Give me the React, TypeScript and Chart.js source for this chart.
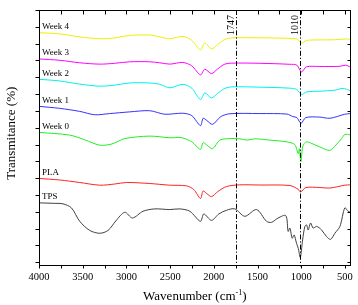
import React, { useEffect, useRef } from "react";
import { Chart, registerables } from "chart.js";

Chart.register(...registerables);

// ---- data (wavenumber in cm-1, transmittance in arbitrary offset units) ----
const seriesNames = ["Week 4", "Week 3", "Week 2", "Week 1", "Week 0", "PLA", "TPS"];
const seriesColors = ["#eeee00", "#ff00ff", "#00eeee", "#3333ff", "#22ee22", "#ff2222", "#404040"];

const week4X = [4000, 3763, 3534, 3305, 3134, 2962, 2733, 2619, 2504, 2355, 2253, 2153, 2104, 2027, 1955, 1875, 1795, 1588, 1359, 1130, 1050, 997, 940, 787, 616, 482, 444];
const week4Y = [13.90, 13.83, 13.65, 13.54, 13.59, 13.74, 13.76, 13.65, 13.54, 13.68, 13.44, 12.88, 13.28, 12.94, 13.20, 13.50, 13.59, 13.60, 13.59, 13.56, 13.53, 13.28, 13.44, 13.47, 13.48, 13.53, 13.50];

const week3X = [4000, 3763, 3534, 3305, 3134, 2962, 2733, 2619, 2504, 2355, 2253, 2153, 2104, 2027, 1955, 1875, 1795, 1474, 1130, 1051, 997, 940, 787, 558, 490, 444];
const week3Y = [12.34, 12.26, 12.11, 12.03, 12.08, 12.17, 12.17, 12.11, 12.03, 12.13, 11.93, 11.39, 11.73, 11.47, 11.75, 12.03, 12.09, 12.08, 12.02, 11.97, 11.57, 11.87, 11.89, 11.90, 11.97, 11.87];

const week2X = [4000, 3763, 3534, 3305, 3134, 2962, 2733, 2619, 2504, 2355, 2253, 2153, 2104, 2027, 1955, 1875, 1795, 1474, 1130, 1051, 997, 940, 787, 616, 524, 444];
const week2Y = [11.13, 11.03, 10.84, 10.72, 10.78, 10.91, 10.91, 10.83, 10.62, 10.83, 10.60, 9.92, 10.32, 10.02, 10.30, 10.59, 10.68, 10.66, 10.60, 10.52, 10.22, 10.38, 10.42, 10.48, 10.59, 10.46];

const week1X = [4000, 3763, 3534, 3363, 3191, 2962, 2733, 2561, 2355, 2253, 2153, 2123, 2081, 2015, 1920, 1817, 1474, 1165, 1096, 1051, 1016, 999, 948, 787, 673, 502, 444];
const week1Y = [9.52, 9.40, 9.22, 9.02, 9.09, 9.19, 9.26, 9.05, 9.11, 8.97, 8.37, 8.81, 8.68, 8.45, 8.91, 9.08, 9.09, 9.06, 8.91, 8.85, 8.57, 8.51, 8.85, 8.88, 8.81, 9.05, 9.09];

const week0X = [4000, 3649, 3477, 3305, 3168, 3019, 2733, 2504, 2370, 2253, 2153, 2123, 2081, 2015, 1932, 1817, 1703, 1619, 1531, 1359, 1169, 1074, 1036, 1022, 1005, 985, 967, 940, 879, 787, 673, 604, 539, 502, 444];
const week0Y = [7.97, 7.81, 7.53, 7.21, 7.28, 7.60, 7.75, 7.65, 7.66, 7.41, 6.96, 7.36, 7.22, 7.00, 7.51, 7.60, 7.59, 7.51, 7.59, 7.51, 7.41, 7.24, 6.70, 7.00, 6.22, 7.10, 7.30, 7.41, 7.31, 7.10, 6.90, 7.22, 7.60, 7.85, 7.83];

const plaX = [4000, 3763, 3534, 3305, 3134, 3000, 2733, 2504, 2313, 2229, 2153, 2123, 2081, 2027, 1955, 1855, 1703, 1474, 1130, 1036, 1008, 948, 787, 673, 502, 444];
const plaY = [5.23, 5.14, 4.99, 4.83, 4.90, 4.99, 4.93, 4.83, 4.79, 4.57, 4.04, 4.49, 4.33, 4.15, 4.45, 4.75, 4.85, 4.84, 4.81, 4.59, 4.43, 4.69, 4.69, 4.66, 4.83, 4.85];

const tpsX = [4000, 3820, 3725, 3629, 3534, 3420, 3305, 3210, 3122, 3019, 2931, 2810, 2676, 2504, 2390, 2275, 2153, 2115, 2027, 1943, 1855, 1760, 1646, 1512, 1397, 1340, 1265, 1177, 1150, 1130, 1104, 1082, 1054, 1034, 1011, 985, 959, 940, 921, 894, 864, 825, 768, 711, 665, 616, 558, 502, 464, 444];
const tpsY = [3.78, 3.75, 3.72, 3.48, 2.68, 2.14, 1.97, 2.14, 2.70, 3.22, 2.88, 3.28, 3.42, 3.38, 3.42, 3.28, 2.68, 3.12, 2.74, 3.12, 3.34, 3.42, 2.98, 3.38, 2.68, 2.62, 2.88, 3.02, 2.08, 2.28, 1.67, 1.87, 1.37, 1.07, 0.53, 1.57, 2.38, 2.47, 2.17, 2.58, 2.28, 2.38, 2.17, 1.77, 1.61, 1.97, 2.38, 3.48, 3.28, 3.24];

const seriesX = [week4X, week3X, week2X, week1X, week0X, plaX, tpsX];
const seriesY = [week4Y, week3Y, week2Y, week1Y, week0Y, plaY, tpsY];

const markerWavenumbers = [1747, 1010];
const markerLabels = ["1747", "1010"];

const xTickValues = [4000, 3500, 3000, 2500, 2000, 1500, 1000, 500];
const xMinorTickValues = [4000, 3750, 3500, 3250, 3000, 2750, 2500, 2250, 2000, 1750, 1500, 1250, 1000, 750, 500];
const xMin = 435;
const xMax = 4000;
const yMin = 0;
const yMax = 15.25;
const yTickCount = 15;

const xTitleMain = "Wavenumber (cm";
const xTitleSup = "-1";
const xTitleEnd = ")";
const yTitle = "Transmitance (%)";

const SERIF = '"Liberation Serif", "Times New Roman", serif';

const overlayPlugin = {
  id: "overlay",
  afterDatasetsDraw(chart: any) {
    const { ctx, chartArea: a, scales } = chart;
    const xs = scales.x;
    const ys = scales.y;
    ctx.save();
    ctx.strokeStyle = "#000";
    ctx.fillStyle = "#000";
    ctx.lineWidth = 1;

    // dash-dot marker lines
    ctx.setLineDash([5, 2, 1.2, 2]);
    markerWavenumbers.forEach((w) => {
      const px = Math.round(xs.getPixelForValue(w)) + 0.5;
      ctx.beginPath();
      ctx.moveTo(px, a.top);
      ctx.lineTo(px, a.bottom);
      ctx.stroke();
    });
    ctx.setLineDash([]);

    // frame
    const L = Math.round(a.left) + 0.5;
    const R = Math.round(a.right) - 0.5;
    const T = Math.round(a.top) + 0.5;
    const B = Math.round(a.bottom) - 0.5;
    ctx.strokeRect(L, T, R - L, B - T);

    // x ticks (bottom outward, top inward)
    ctx.beginPath();
    xMinorTickValues.forEach((w) => {
      const px = Math.round(xs.getPixelForValue(w)) + 0.5;
      ctx.moveTo(px, B);
      ctx.lineTo(px, B + 3);
      ctx.moveTo(px, T);
      ctx.lineTo(px, T + 4);
    });
    // y ticks (left outward, right inward)
    for (let k = 0; k <= yTickCount; k++) {
      const py = Math.round(ys.getPixelForValue(yMax - k)) + 0.5;
      ctx.moveTo(L - 4, py);
      ctx.lineTo(L, py);
      ctx.moveTo(R - 3, py);
      ctx.lineTo(R, py);
    }
    ctx.stroke();

    // marker labels
    ctx.font = `10px ${SERIF}`;
    ctx.textAlign = "left";
    ctx.textBaseline = "middle";
    markerWavenumbers.forEach((w, i) => {
      const px = xs.getPixelForValue(w);
      ctx.save();
      ctx.translate(px - 5, a.top + 25);
      ctx.rotate(-Math.PI / 2);
      ctx.fillText(markerLabels[i], 0, 0);
      ctx.restore();
    });

    // series labels
    ctx.font = `9px ${SERIF}`;
    ctx.textAlign = "left";
    ctx.textBaseline = "middle";
    seriesNames.forEach((name, i) => {
      const meta = chart.getDatasetMeta(i);
      const p0 = meta.data[0];
      ctx.fillText(name, a.left + 3, p0.y - 6);
    });

    // y title
    ctx.font = `13px ${SERIF}`;
    ctx.save();
    ctx.translate(12, (a.top + a.bottom) / 2 - 5);
    ctx.rotate(-Math.PI / 2);
    ctx.textAlign = "center";
    ctx.textBaseline = "middle";
    ctx.fillText(yTitle, 0, 0);
    ctx.restore();

    // x title with superscript
    ctx.font = `13px ${SERIF}`;
    const w1 = ctx.measureText(xTitleMain).width;
    const w3 = ctx.measureText(xTitleEnd).width;
    ctx.font = `8px ${SERIF}`;
    const w2 = ctx.measureText(xTitleSup).width;
    const total = w1 + w2 + w3;
    const cx = (a.left + a.right) / 2;
    let sx = cx - total / 2;
    const baseY = 300;
    ctx.textAlign = "left";
    ctx.textBaseline = "alphabetic";
    ctx.font = `13px ${SERIF}`;
    ctx.fillText(xTitleMain, sx, baseY);
    sx += w1;
    ctx.font = `8px ${SERIF}`;
    ctx.fillText(xTitleSup, sx, baseY - 5);
    sx += w2;
    ctx.font = `13px ${SERIF}`;
    ctx.fillText(xTitleEnd, sx, baseY);

    ctx.restore();
  },
};

export default function App() {
  const canvasRef = useRef<HTMLCanvasElement | null>(null);

  useEffect(() => {
    if (!canvasRef.current) return;
    const datasets = seriesNames.map((name, i) => ({
      label: name,
      data: seriesX[i].map((x, j) => ({ x, y: seriesY[i][j] })),
      borderColor: seriesColors[i],
      backgroundColor: seriesColors[i],
      borderWidth: 1,
      pointRadius: 0,
      tension: 0.3,
      fill: false,
    }));
    const chart = new Chart(canvasRef.current, {
      type: "line",
      data: { datasets },
      options: {
        animation: false,
        responsive: false,
        maintainAspectRatio: false,
        layout: { padding: { left: 39, right: 7, top: 10, bottom: 16 } },
        plugins: {
          legend: { display: false },
          tooltip: { enabled: false },
          title: { display: false },
        },
        scales: {
          x: {
            type: "linear",
            reverse: true,
            min: xMin,
            max: xMax,
            afterBuildTicks: (scale: any) => {
              scale.ticks = xTickValues.map((v) => ({ value: v }));
            },
            grid: { display: false, drawTicks: false },
            border: { display: false },
            ticks: {
              padding: 5,
              color: "#000",
              maxRotation: 0,
              autoSkip: false,
              font: { family: SERIF, size: 10.5 },
              callback: (v: any) => String(v),
            },
          },
          y: {
            type: "linear",
            min: yMin,
            max: yMax,
            display: false,
          },
        },
      },
      plugins: [overlayPlugin],
    });
    return () => chart.destroy();
  }, []);

  return (
    <div style={{ position: "fixed", left: 0, top: 0, width: 358, height: 305, background: "#fff" }}>
      <canvas ref={canvasRef} width={358} height={305} style={{ display: "block" }} />
    </div>
  );
}
